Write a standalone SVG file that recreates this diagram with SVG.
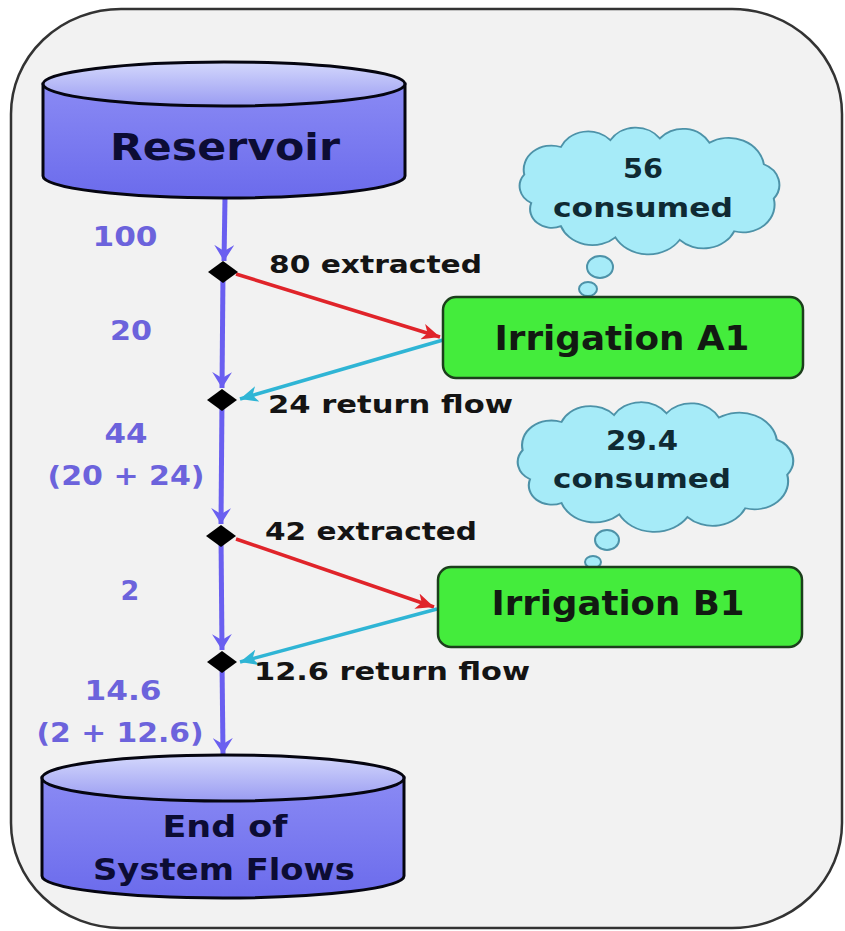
<svg xmlns="http://www.w3.org/2000/svg" width="845" height="931" viewBox="0 0 845 931">
<defs>
<style>
.lbl{font-family:"DejaVu Sans","Liberation Sans",sans-serif;font-weight:bold;}
.blk{fill:#141414;font-size:25px;}
.pur{fill:#6c63dc;font-size:27px;text-anchor:middle;}
.cyl{fill:#0c0c34;text-anchor:middle;}
.box{fill:#44ec3c;stroke:#1c3f1c;stroke-width:2.5;}
.boxt{fill:#121a12;font-size:33px;text-anchor:middle;}
.cld{fill:#a6ebf8;stroke:#4d92a8;stroke-width:2;}
.cldu{fill:#a6ebf8;stroke:#4d92a8;stroke-width:2;vector-effect:non-scaling-stroke;}
.cldt{fill:#0f2a33;font-size:26px;text-anchor:middle;}
.main{stroke:#6a5ff0;stroke-width:5;fill:none;}
.red{stroke:#e0242a;stroke-width:3.5;fill:none;}
.cyan{stroke:#2fb5d5;stroke-width:3.5;fill:none;}
.cylbody{stroke:#050510;stroke-width:3;}
</style>
<linearGradient id="gBody" x1="0" y1="0" x2="0" y2="1">
<stop offset="0" stop-color="#8a8af4"/>
<stop offset="1" stop-color="#6b6bec"/>
</linearGradient>
<linearGradient id="gTop" x1="0" y1="0" x2="0" y2="1">
<stop offset="0" stop-color="#d4d8fc"/>
<stop offset="1" stop-color="#9a9cf2"/>
</linearGradient>
<marker id="mPur" viewBox="-16 -10 16 20" markerWidth="16" markerHeight="20" refX="0" refY="0" markerUnits="userSpaceOnUse" orient="auto">
<path d="M0,0 L-16,-10 L-10,0 L-16,10 Z" fill="#6a5ff0"/>
</marker>
<marker id="mRed" viewBox="-18 -8 18 16" markerWidth="18" markerHeight="16" refX="0" refY="0" markerUnits="userSpaceOnUse" orient="auto">
<path d="M0,0 L-18,-8 L-13,0 L-18,8 Z" fill="#e0242a"/>
</marker>
<marker id="mCyan" viewBox="-18 -8 18 16" markerWidth="18" markerHeight="16" refX="0" refY="0" markerUnits="userSpaceOnUse" orient="auto">
<path d="M0,0 L-18,-8 L-13,0 L-18,8 Z" fill="#2fb5d5"/>
</marker>
<path id="cloud" d="M-120,15 A22,22 0 0 1 -127,-18 A28,28 0 0 1 -90,-50 A30,30 0 0 1 -40,-58 A30,30 0 0 1 10,-60 A30,30 0 0 1 60,-55 A36,36 0 0 1 115,-30 A26,26 0 0 1 125,10 A32,32 0 0 1 85,48 A34,34 0 0 1 30,58 A38,38 0 0 1 -35,55 A34,34 0 0 1 -90,42 A22,22 0 0 1 -120,15 Z"/>
</defs>

<rect x="0" y="0" width="845" height="931" fill="#ffffff"/>
<rect id="frame" x="11" y="9" width="831" height="919" rx="110" ry="105" fill="#f2f2f2" stroke="#333333" stroke-width="2.5"/>

<g id="connectors">
<line class="main" x1="225" y1="198" x2="224" y2="261" marker-end="url(#mPur)"/>
<line class="main" x1="223" y1="272" x2="222" y2="388" marker-end="url(#mPur)"/>
<line class="main" x1="222" y1="400" x2="221" y2="524" marker-end="url(#mPur)"/>
<line class="main" x1="221" y1="536" x2="222" y2="650" marker-end="url(#mPur)"/>
<line class="main" x1="222" y1="662" x2="223" y2="754" marker-end="url(#mPur)"/>
<line class="red" x1="236" y1="274" x2="440" y2="337" marker-end="url(#mRed)"/>
<line class="cyan" x1="443" y1="340" x2="240" y2="399" marker-end="url(#mCyan)"/>
<line class="red" x1="236" y1="539" x2="434" y2="607" marker-end="url(#mRed)"/>
<line class="cyan" x1="437" y1="609" x2="240" y2="662" marker-end="url(#mCyan)"/>
</g>

<g id="junctions" fill="#000000">
<path d="M208,272 L223,261 L238,272 L223,283 Z"/>
<path d="M207,400 L222,389 L237,400 L222,411 Z"/>
<path d="M206,536 L221,525 L236,536 L221,547 Z"/>
<path d="M207,662 L222,651 L237,662 L222,673 Z"/>
</g>

<g id="reservoir">
<path class="cylbody" d="M43,84 L43,176 A181,22 0 0 0 405,176 L405,84 Z" fill="url(#gBody)"/>
<ellipse class="cylbody" cx="224" cy="84" rx="181" ry="22" fill="url(#gTop)"/>
<text class="lbl cyl" x="225" y="160" font-size="38" textLength="230" lengthAdjust="spacingAndGlyphs">Reservoir</text>
</g>

<g id="end-of-system">
<path class="cylbody" d="M42,778 L42,876 A181,22 0 0 0 404,876 L404,778 Z" fill="url(#gBody)"/>
<ellipse class="cylbody" cx="223" cy="778" rx="181" ry="23" fill="url(#gTop)"/>
<text class="lbl cyl" x="225" y="837" font-size="31" textLength="125" lengthAdjust="spacingAndGlyphs">End of</text>
<text class="lbl cyl" x="224" y="880" font-size="31" textLength="262" lengthAdjust="spacingAndGlyphs">System Flows</text>
</g>

<g id="cloud-a">
<use href="#cloud" class="cldu" transform="translate(650,190) scale(0.99,0.86)"/>
<ellipse class="cld" cx="600" cy="267" rx="13" ry="11"/>
<ellipse class="cld" cx="588" cy="289" rx="9" ry="7"/>
<text class="lbl cldt" x="643" y="178" textLength="40" lengthAdjust="spacingAndGlyphs">56</text>
<text class="lbl cldt" x="643" y="217" textLength="180" lengthAdjust="spacingAndGlyphs">consumed</text>
</g>

<g id="cloud-b">
<use href="#cloud" class="cldu" transform="translate(656,466) scale(1.05,0.88)"/>
<ellipse class="cld" cx="607" cy="540" rx="12" ry="10"/>
<ellipse class="cld" cx="593" cy="562" rx="8" ry="6"/>
<text class="lbl cldt" x="642" y="450" textLength="72" lengthAdjust="spacingAndGlyphs">29.4</text>
<text class="lbl cldt" x="642" y="488" textLength="178" lengthAdjust="spacingAndGlyphs">consumed</text>
</g>

<g id="irrigation-a1">
<rect class="box" x="443" y="297" width="360" height="81" rx="13"/>
<text class="lbl boxt" x="622" y="350" textLength="255" lengthAdjust="spacingAndGlyphs">Irrigation A1</text>
</g>

<g id="irrigation-b1">
<rect class="box" x="438" y="567" width="364" height="80" rx="13"/>
<text class="lbl boxt" x="618" y="615" textLength="253" lengthAdjust="spacingAndGlyphs">Irrigation B1</text>
</g>

<g id="flow-labels">
<text class="lbl blk" x="269" y="273" textLength="213" lengthAdjust="spacingAndGlyphs">80 extracted</text>
<text class="lbl blk" x="268" y="413" textLength="245" lengthAdjust="spacingAndGlyphs">24 return flow</text>
<text class="lbl blk" x="265" y="540" textLength="212" lengthAdjust="spacingAndGlyphs">42 extracted</text>
<text class="lbl blk" x="254" y="680" textLength="276" lengthAdjust="spacingAndGlyphs">12.6 return flow</text>
</g>

<g id="river-labels">
<text class="lbl pur" x="125" y="246" textLength="65" lengthAdjust="spacingAndGlyphs">100</text>
<text class="lbl pur" x="131" y="340" textLength="42" lengthAdjust="spacingAndGlyphs">20</text>
<text class="lbl pur" x="126" y="443" textLength="43" lengthAdjust="spacingAndGlyphs">44</text>
<text class="lbl pur" x="126" y="485" textLength="157" lengthAdjust="spacingAndGlyphs">(20 + 24)</text>
<text class="lbl pur" x="130" y="600">2</text>
<text class="lbl pur" x="123" y="700" textLength="77" lengthAdjust="spacingAndGlyphs">14.6</text>
<text class="lbl pur" x="120" y="742" textLength="167" lengthAdjust="spacingAndGlyphs">(2 + 12.6)</text>
</g>
</svg>
